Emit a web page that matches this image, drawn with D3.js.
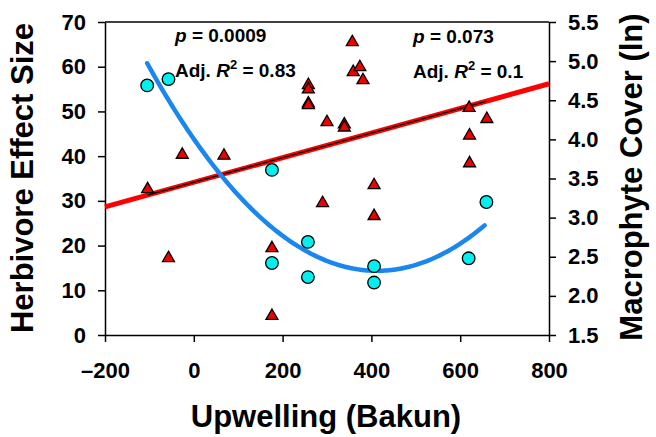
<!DOCTYPE html>
<html>
<head>
<meta charset="utf-8">
<script src="https://cdn.jsdelivr.net/npm/d3@7"></script>
<style>
  html, body { margin: 0; padding: 0; background: #fff; }
  svg { display: block; font-family: "Liberation Sans", Arial, sans-serif; }
</style>
</head>
<body>
<svg id="chart" width="656" height="437"></svg>
<script>
// ---- Data ----
// Herbivore effect size (left axis), red triangles
const herbX = [-104, -57, -26, 68, 176, 176, 258, 258, 258, 258, 290, 300, 339, 339, 357, 359, 374, 381, 406, 406, 620, 621, 621, 660];
const herbY = [32.6, 17.2, 40.3, 40.1, 19.4, 4.25, 55.9, 54.9, 51.8, 51.4, 29.5, 47.6, 47.1, 46.4, 65.5, 58.8, 59.9, 57.0, 33.5, 26.6, 50.8, 44.6, 38.4, 48.3];
// Macrophyte cover (ln) (right axis), cyan circles
const macX = [-105, -57, 176, 176, 257, 257, 406, 406, 619, 659];
const macY = [4.69, 4.77, 3.61, 2.42, 2.69, 2.24, 2.38, 2.17, 2.48, 3.20];

const xTicks = [-200, 0, 200, 400, 600, 800];
const yLeftTicks = [0, 10, 20, 30, 40, 50, 60, 70];
const yRightTicks = [1.5, 2.0, 2.5, 3.0, 3.5, 4.0, 4.5, 5.0, 5.5];

const svg = d3.select("#chart");
const L = 105, R = 549, T = 22, B = 335;

const x = d3.scaleLinear().domain([-200, 800]).range([L, R]);
const yL = d3.scaleLinear().domain([0, 70]).range([B, T]);
const yR = d3.scaleLinear().domain([1.5, 5.5]).range([B, T]);

// ---- Fits (computed from the data) ----
function linFit(xs, ys) {
  const n = xs.length, mx = d3.mean(xs), my = d3.mean(ys);
  let sxy = 0, sxx = 0;
  for (let i = 0; i < n; i++) { sxy += (xs[i]-mx)*(ys[i]-my); sxx += (xs[i]-mx)**2; }
  const b = sxy / sxx;
  return v => my + b * (v - mx);
}
function quadFit(xs, ys) {
  const s = 1000;
  const S = [0,0,0,0,0], Ty = [0,0,0];
  xs.forEach((xv, i) => {
    const t = xv / s;
    for (let k = 0; k < 5; k++) S[k] += t**k;
    for (let k = 0; k < 3; k++) Ty[k] += ys[i] * t**k;
  });
  const A = [[S[0],S[1],S[2],Ty[0]],[S[1],S[2],S[3],Ty[1]],[S[2],S[3],S[4],Ty[2]]];
  for (let i = 0; i < 3; i++) {
    let p = i;
    for (let r = i+1; r < 3; r++) if (Math.abs(A[r][i]) > Math.abs(A[p][i])) p = r;
    [A[i], A[p]] = [A[p], A[i]];
    for (let r = 0; r < 3; r++) if (r !== i) {
      const f = A[r][i] / A[i][i];
      for (let c = i; c < 4; c++) A[r][c] -= f * A[i][c];
    }
  }
  const c = [A[0][3]/A[0][0], A[1][3]/A[1][1], A[2][3]/A[2][2]];
  return v => { const t = v / s; return c[0] + c[1]*t + c[2]*t*t; };
}

const herbLine = linFit(herbX, herbY);
const macCurve = quadFit(macX, macY);

// ---- Axes ----
const axisFont = "22px";
const gx = svg.append("g").attr("transform", `translate(0,${B})`)
  .call(d3.axisBottom(x).tickValues(xTicks).tickSize(7).tickSizeOuter(0).tickPadding(20)
    .tickFormat(d => d < 0 ? "\u2013" + Math.abs(d) : d));
const gl = svg.append("g").attr("transform", `translate(${L},0)`)
  .call(d3.axisLeft(yL).tickValues(yLeftTicks).tickSize(7).tickSizeOuter(0).tickPadding(12));
const gr = svg.append("g").attr("transform", `translate(${R},0)`)
  .call(d3.axisRight(yR).tickValues(yRightTicks).tickSize(7).tickSizeOuter(0).tickPadding(12)
    .tickFormat(d3.format(".1f")));
[gx, gl, gr].forEach(g => {
  g.selectAll("path.domain").attr("stroke", "#000").attr("stroke-width", 1.5);
  g.selectAll(".tick line").attr("stroke", "#000").attr("stroke-width", 1.5);
  g.selectAll(".tick text").attr("fill", "#000").style("font-size", axisFont)
    .style("font-weight", "bold").style("font-family", '"Liberation Sans", Arial, sans-serif');
});
svg.append("line").attr("x1", L).attr("x2", R).attr("y1", T).attr("y2", T)
  .attr("stroke", "#000").attr("stroke-width", 1.5);

// ---- Fit lines ----
const lineGen = d3.line();
svg.append("path")
  .attr("d", lineGen([[x(-200), yL(herbLine(-200))], [x(800), yL(herbLine(800))]]))
  .attr("stroke", "#ff0000").attr("stroke-width", 5).attr("fill", "none");
svg.append("path")
  .attr("d", lineGen([[x(d3.min(herbX)), yL(herbLine(d3.min(herbX)))], [x(d3.max(herbX)), yL(herbLine(d3.max(herbX)))]]))
  .attr("stroke", "#000").attr("stroke-width", 1.3).attr("fill", "none");

const xs = d3.range(d3.min(macX), d3.max(macX) + 0.5, 5);
svg.append("path")
  .attr("d", d3.line().x(v => x(v)).y(v => yR(macCurve(v)))(xs))
  .attr("stroke", "#1a86f0").attr("stroke-width", 4.5).attr("fill", "none")
  .attr("stroke-linecap", "round");

// ---- Points ----
svg.append("g").selectAll("circle").data(macX.map((v, i) => [v, macY[i]])).join("circle")
  .attr("cx", d => x(d[0])).attr("cy", d => yR(d[1])).attr("r", 6.3)
  .attr("fill", "#00f0f0").attr("stroke", "#000").attr("stroke-width", 1.3);

const tri = d3.symbol().type(d3.symbolTriangle).size(62);
svg.append("g").selectAll("path").data(herbX.map((v, i) => [v, herbY[i]])).join("path")
  .attr("d", tri)
  .attr("transform", d => `translate(${x(d[0])},${yL(d[1])})`)
  .attr("fill", "#f00000").attr("stroke", "#000").attr("stroke-width", 1.3);

// ---- Annotations ----
function stat(xp, y1, y2, pTxt, rTxt) {
  const t1 = svg.append("text").attr("x", xp).attr("y", y1)
    .style("font-size", "19px").style("font-weight", "bold");
  t1.append("tspan").style("font-style", "italic").text("p");
  t1.append("tspan").text(" = " + pTxt);
  const t2 = svg.append("text").attr("x", xp).attr("y", y2)
    .style("font-size", "19px").style("font-weight", "bold");
  t2.append("tspan").text("Adj. ");
  t2.append("tspan").style("font-style", "italic").text("R");
  t2.append("tspan").attr("dy", -8).style("font-size", "13px").text("2");
  t2.append("tspan").attr("dy", 8).text(" = " + rTxt);
}
stat(175, 42, 77, "0.0009", "0.83");
stat(413, 43, 78, "0.073", "0.1");

// ---- Axis titles ----
svg.append("text").attr("x", 326).attr("y", 427).attr("text-anchor", "middle")
  .style("font-size", "31px").style("font-weight", "bold").text("Upwelling (Bakun)");
svg.append("text").attr("transform", `translate(33,178) rotate(-90)`)
  .attr("text-anchor", "middle")
  .style("font-size", "31px").style("font-weight", "bold").text("Herbivore Effect Size");
svg.append("text").attr("transform", `translate(642,177) rotate(-90)`)
  .attr("text-anchor", "middle")
  .style("font-size", "31px").style("font-weight", "bold").text("Macrophyte Cover (ln)");
</script>
</body>
</html>
